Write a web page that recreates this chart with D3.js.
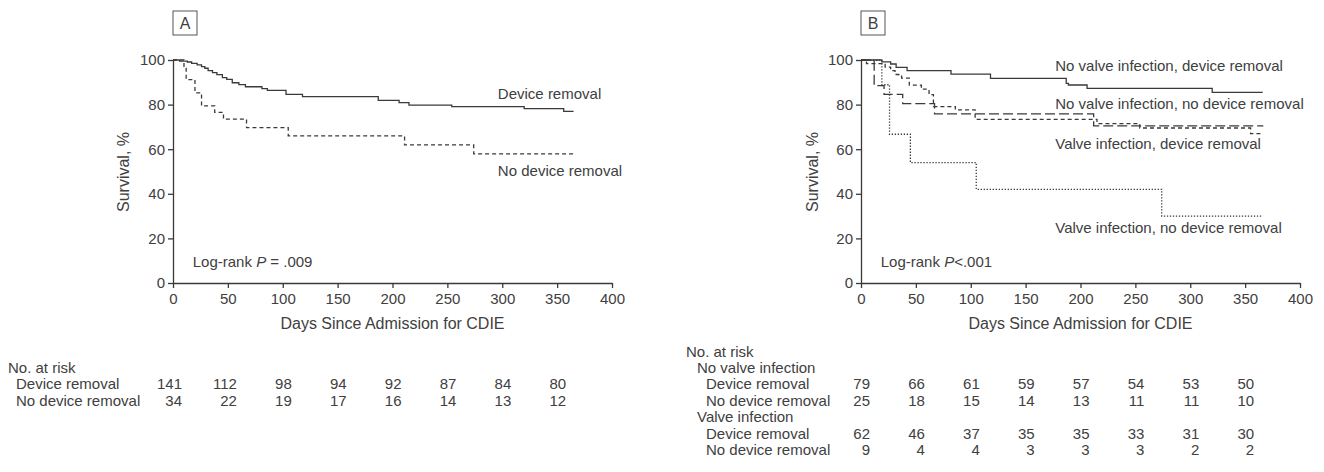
<!DOCTYPE html>
<html>
<head>
<meta charset="utf-8">
<script src="https://cdn.jsdelivr.net/npm/d3@7"></script>
<style>
  body { margin: 0; background: #fff; }
  svg text { font-family: "Liberation Sans", Arial, sans-serif; fill: #404040; }
</style>
</head>
<body>
<div id="chart"></div>
<script>
// days on the x axis
var riskTimes = [0, 50, 100, 150, 200, 250, 300, 350];
var xTicks = [0, 50, 100, 150, 200, 250, 300, 350, 400];
var yTicks = [0, 20, 40, 60, 80, 100];

// Panel A curves (days, survival %)
var aDevTimes = [0, 6, 13, 17, 22, 26, 29, 32, 36, 40, 45, 49, 54, 60, 66, 81, 86, 103, 118, 187, 206, 215, 254, 320, 356, 365];
var aDevSurv  = [100, 99.5, 99.1, 98.5, 97.8, 97.0, 96.3, 95.2, 94.3, 93.4, 92.1, 91.3, 89.8, 89.0, 88.0, 87.2, 86.4, 84.6, 83.6, 81.9, 80.9, 79.8, 79.1, 78.2, 77.0, 77.0];
var aNoDevTimes = [0, 10, 12, 20, 26, 38, 46, 67, 105, 211, 274, 365];
var aNoDevSurv  = [100, 97.1, 91.2, 85.3, 79.4, 76.5, 73.5, 69.7, 66.0, 61.9, 57.9, 57.9];

// Panel B curves
var bNviDevTimes = [0, 19, 27, 32, 42, 82, 118, 187, 189, 206, 320, 366];
var bNviDevSurv  = [100, 99.2, 98.2, 96.7, 95.2, 93.7, 91.8, 89.5, 88.8, 87.3, 85.5, 85.5];
var bNviNoDevTimes = [0, 12, 21, 38, 67, 212, 366];
var bNviNoDevSurv  = [100, 88.5, 84.6, 80.4, 75.8, 70.5, 70.2];
var bViDevTimes = [0, 5, 22, 27, 31, 37, 44, 55, 62, 66, 86, 104, 215, 254, 355, 366];
var bViDevSurv  = [100, 98.4, 96.8, 95.2, 93.5, 91.9, 88.7, 86.9, 84.5, 79.1, 77.6, 73.4, 71.5, 69.5, 67.0, 67.0];
var bViNoDevTimes = [0, 19, 26, 45, 105, 274, 366];
var bViNoDevSurv  = [100, 88.9, 66.7, 54.0, 42.0, 30.0, 30.0];

// numbers at risk
var aRiskDev   = [141, 112, 98, 94, 92, 87, 84, 80];
var aRiskNoDev = [34, 22, 19, 17, 16, 14, 13, 12];
var bRiskNviDev   = [79, 66, 61, 59, 57, 54, 53, 50];
var bRiskNviNoDev = [25, 18, 15, 14, 13, 11, 11, 10];
var bRiskViDev    = [62, 46, 37, 35, 35, 33, 31, 30];
var bRiskViNoDev  = [9, 4, 4, 3, 3, 3, 2, 2];

var W = 1324, H = 472;
var plotW = 439, plotH = 223, plotTop = 60;
var ink = "#3a3a3a";

var svg = d3.select("#chart").append("svg")
    .attr("width", W)
    .attr("height", H);

function zip(t, s) {
    return t.map(function (d, i) { return [d, s[i]]; });
}

function drawPanel(p) {
    var g = svg.append("g")
        .attr("transform", "translate(" + p.left + "," + plotTop + ")");

    var x = d3.scaleLinear().domain([0, 400]).range([0, plotW]);
    var y = d3.scaleLinear().domain([0, 100]).range([plotH, 0]);

    // panel letter box
    g.append("rect")
        .attr("x", 0).attr("y", -49)
        .attr("width", 24).attr("height", 24)
        .attr("fill", "none").attr("stroke", "#555").attr("stroke-width", 1);
    g.append("text")
        .attr("x", 12).attr("y", -37).attr("dy", "0.36em")
        .attr("text-anchor", "middle")
        .attr("font-size", 16)
        .text(p.letter);

    // axes
    var xAxis = d3.axisBottom(x).tickValues(xTicks).tickSize(5).tickSizeOuter(0).tickPadding(5);
    var yAxis = d3.axisLeft(y).tickValues(yTicks).tickSize(5).tickSizeOuter(0).tickPadding(3);

    var gx = g.append("g").attr("transform", "translate(0," + plotH + ")").call(xAxis);
    var gy = g.append("g").call(yAxis);
    [gx, gy].forEach(function (a) {
        a.selectAll("path, line").attr("stroke", ink).attr("stroke-width", 1.3);
        a.selectAll("text").attr("font-size", 15).attr("fill", "#404040")
            .style("font-family", "'Liberation Sans', Arial, sans-serif");
    });

    g.append("text")
        .attr("x", plotW / 2).attr("y", 263).attr("dy", "0.35em")
        .attr("text-anchor", "middle").attr("font-size", 16)
        .text("Days Since Admission for CDIE");

    g.append("text")
        .attr("transform", "translate(" + p.yTitleX + "," + (plotH / 2 + 0.5) + ") rotate(-90)")
        .attr("dy", "0.35em")
        .attr("text-anchor", "middle").attr("font-size", 16)
        .text("Survival, %");

    // survival curves
    var line = d3.line()
        .x(function (d) { return x(d[0]); })
        .y(function (d) { return y(d[1]); })
        .curve(d3.curveStepAfter);

    p.curves.forEach(function (c) {
        g.append("path")
            .datum(zip(c.t, c.s))
            .attr("d", line)
            .attr("fill", "none")
            .attr("stroke", ink)
            .attr("stroke-width", c.w || 1.3)
            .attr("stroke-dasharray", c.dash);
    });

    // curve labels
    p.labels.forEach(function (l) {
        g.append("text")
            .attr("x", x(l.d)).attr("y", y(l.v)).attr("dy", "0.35em")
            .attr("font-size", 15)
            .text(l.text);
    });

    var lr = g.append("text")
        .attr("x", x(18)).attr("y", y(9.7)).attr("dy", "0.35em")
        .attr("font-size", 15);
    lr.append("tspan").text("Log-rank ");
    lr.append("tspan").attr("font-style", "italic").text("P");
    lr.append("tspan").text(p.pText);

    // numbers at risk table
    var rowH = 16.4;
    var rows = g.append("g").attr("transform", "translate(0," + (p.tableTop - plotTop) + ")");
    p.table.forEach(function (r, i) {
        rows.append("text")
            .attr("x", r.indent - p.left).attr("y", i * rowH).attr("dy", "0.35em")
            .attr("font-size", 15)
            .text(r.label);
        if (r.values) {
            rows.selectAll(null)
                .data(r.values)
                .enter()
                .append("text")
                .attr("x", function (d, j) { return x(riskTimes[j]) + 9; })
                .attr("y", i * rowH).attr("dy", "0.35em")
                .attr("text-anchor", "end")
                .attr("font-size", 15)
                .text(function (d) { return d; });
        }
    });
}

drawPanel({
    letter: "A", left: 173, yTitleX: -50, pText: " = .009",
    curves: [
        { t: aDevTimes, s: aDevSurv, dash: null },
        { t: aNoDevTimes, s: aNoDevSurv, dash: "4,3" }
    ],
    labels: [
        { d: 296, v: 85, text: "Device removal" },
        { d: 296, v: 50.4, text: "No device removal" }
    ],
    tableTop: 367.7,
    table: [
        { label: "No. at risk", indent: 8 },
        { label: "Device removal", indent: 16, values: aRiskDev },
        { label: "No device removal", indent: 16, values: aRiskNoDev }
    ]
});

drawPanel({
    letter: "B", left: 861, yTitleX: -49, pText: "<.001",
    curves: [
        { t: bNviDevTimes, s: bNviDevSurv, dash: null },
        { t: bNviNoDevTimes, s: bNviNoDevSurv, dash: "10,4" },
        { t: bViDevTimes, s: bViDevSurv, dash: "4,3" },
        { t: bViNoDevTimes, s: bViNoDevSurv, dash: "1.3,1.7" }
    ],
    labels: [
        { d: 177, v: 97.5, text: "No valve infection, device removal" },
        { d: 177, v: 80.2, text: "No valve infection, no device removal" },
        { d: 177, v: 62.4, text: "Valve infection, device removal" },
        { d: 177, v: 24.9, text: "Valve infection, no device removal" }
    ],
    tableTop: 351.3,
    table: [
        { label: "No. at risk", indent: 686 },
        { label: "No valve infection", indent: 697 },
        { label: "Device removal", indent: 706, values: bRiskNviDev },
        { label: "No device removal", indent: 706, values: bRiskNviNoDev },
        { label: "Valve infection", indent: 697 },
        { label: "Device removal", indent: 706, values: bRiskViDev },
        { label: "No device removal", indent: 706, values: bRiskViNoDev }
    ]
});
</script>
</body>
</html>
